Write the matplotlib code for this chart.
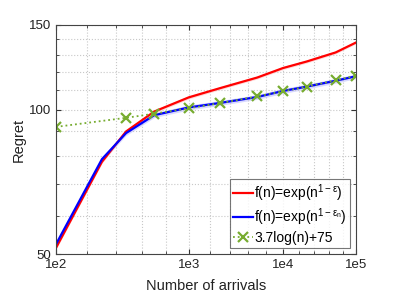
import numpy as np
import matplotlib
matplotlib.use('Agg')
import matplotlib.pyplot as plt
from matplotlib.ticker import FixedLocator, NullFormatter

plt.rcParams['font.family'] = ['Liberation Sans', 'DejaVu Sans']
plt.rcParams['mathtext.fontset'] = 'custom'
plt.rcParams['mathtext.rm'] = 'Liberation Sans'
plt.rcParams['mathtext.it'] = 'Liberation Sans'

# number of arrivals
n_curve = [100, 200, 300, 500, 1000, 2000, 5000, 10000, 20000, 50000, 100000]
regret_fixed = [51.5, 77.8, 90.0, 99.0, 106.0, 110.8, 116.6, 122.0, 125.9, 131.5, 137.9]
regret_adapt = [52.4, 78.8, 89.3, 97.3, 101.0, 103.2, 106.2, 109.3, 111.6, 114.8, 117.3]
adapt_spread = [0.6, 0.9, 1.0, 1.1, 1.2, 1.2, 1.2, 1.3, 1.3, 1.3, 1.3]
fixed_spread = [0.4, 0.6, 0.7, 0.8, 0.8, 0.8, 0.8, 0.9, 0.9, 0.9, 0.9]

n_bound = [100, 300, 500, 1000, 2000, 5000, 10000, 20000, 50000, 100000]
regret_bound = [92.0, 96.1, 98.0, 100.6, 103.1, 106.5, 109.1, 111.6, 115.0, 117.6]

x_major = [1e2, 1e3, 1e4, 1e5]
x_labels = ['1e2', '1e3', '1e4', '1e5']
y_major = [50, 100, 150]
y_minor = [60, 70, 80, 90, 110, 120, 130, 140]

fig = plt.figure(figsize=(3.99, 2.99), dpi=100)
ax = fig.add_axes([0.1404, 0.1505, 0.7518, 0.7659])

# x axis is log of log10(n)
ax.set_xscale('function', functions=(lambda x: np.log(np.log10(x)),
                                     lambda y: 10 ** np.exp(y)))
ax.set_yscale('log')

lo = np.array(regret_fixed) - np.array(fixed_spread)
hi = np.array(regret_fixed) + np.array(fixed_spread)
ax.fill_between(n_curve, lo, hi, color='#ffc8c8', alpha=0.7, lw=0)
lo = np.array(regret_adapt) - np.array(adapt_spread)
hi = np.array(regret_adapt) + np.array(adapt_spread)
ax.fill_between(n_curve, lo, hi, color='#c8c8ff', alpha=0.7, lw=0)

ax.plot(n_curve, regret_fixed, color='red', lw=1.6,
        label=r'f(n)=exp(n$^{1-\epsilon}$)')
ax.plot(n_curve, regret_adapt, color='blue', lw=1.6,
        label=r'f(n)=exp(n$^{1-\epsilon_{\mathrm{n}}}$)')
ax.plot(n_bound, regret_bound, color='#77ac30', lw=1.3, ls=':',
        marker='x', ms=7, mew=1.6, label='3.7log(n)+75')

ax.set_xlim(100, 1e5)
ax.set_ylim(50, 150)
ax.set_xticks(x_major)
ax.set_xticklabels(x_labels)
ax.xaxis.set_minor_locator(FixedLocator([10 ** (k / 5) for k in range(10, 26)]))
ax.xaxis.set_minor_formatter(NullFormatter())
ax.set_yticks(y_major)
ax.set_yticklabels([str(v) for v in y_major])
ax.yaxis.set_minor_locator(FixedLocator(y_minor))
ax.yaxis.set_minor_formatter(NullFormatter())

ax.tick_params(which='both', direction='in', top=True, right=True,
               labelsize=9.5, color='#333333', labelcolor='#222222')
ax.tick_params(which='major', length=3.5)
ax.tick_params(which='minor', length=2.5)
ax.grid(True, which='both', ls=':', color='#c8c8c8', lw=0.8)
for s in ax.spines.values():
    s.set_color('#444444')
    s.set_linewidth(0.8)

ax.set_xlabel('Number of arrivals', fontsize=10.5, color='#222222', labelpad=6)
ax.set_ylabel('Regret', fontsize=10.5, color='#222222', labelpad=2)

leg = ax.legend(loc='lower right', fontsize=10, handlelength=1.4,
                handletextpad=0.1, borderpad=0.25, labelspacing=0.2,
                fancybox=False, edgecolor='#555555', borderaxespad=0.4)
leg.get_frame().set_linewidth(0.8)

fig.savefig('out.png', dpi=100)
